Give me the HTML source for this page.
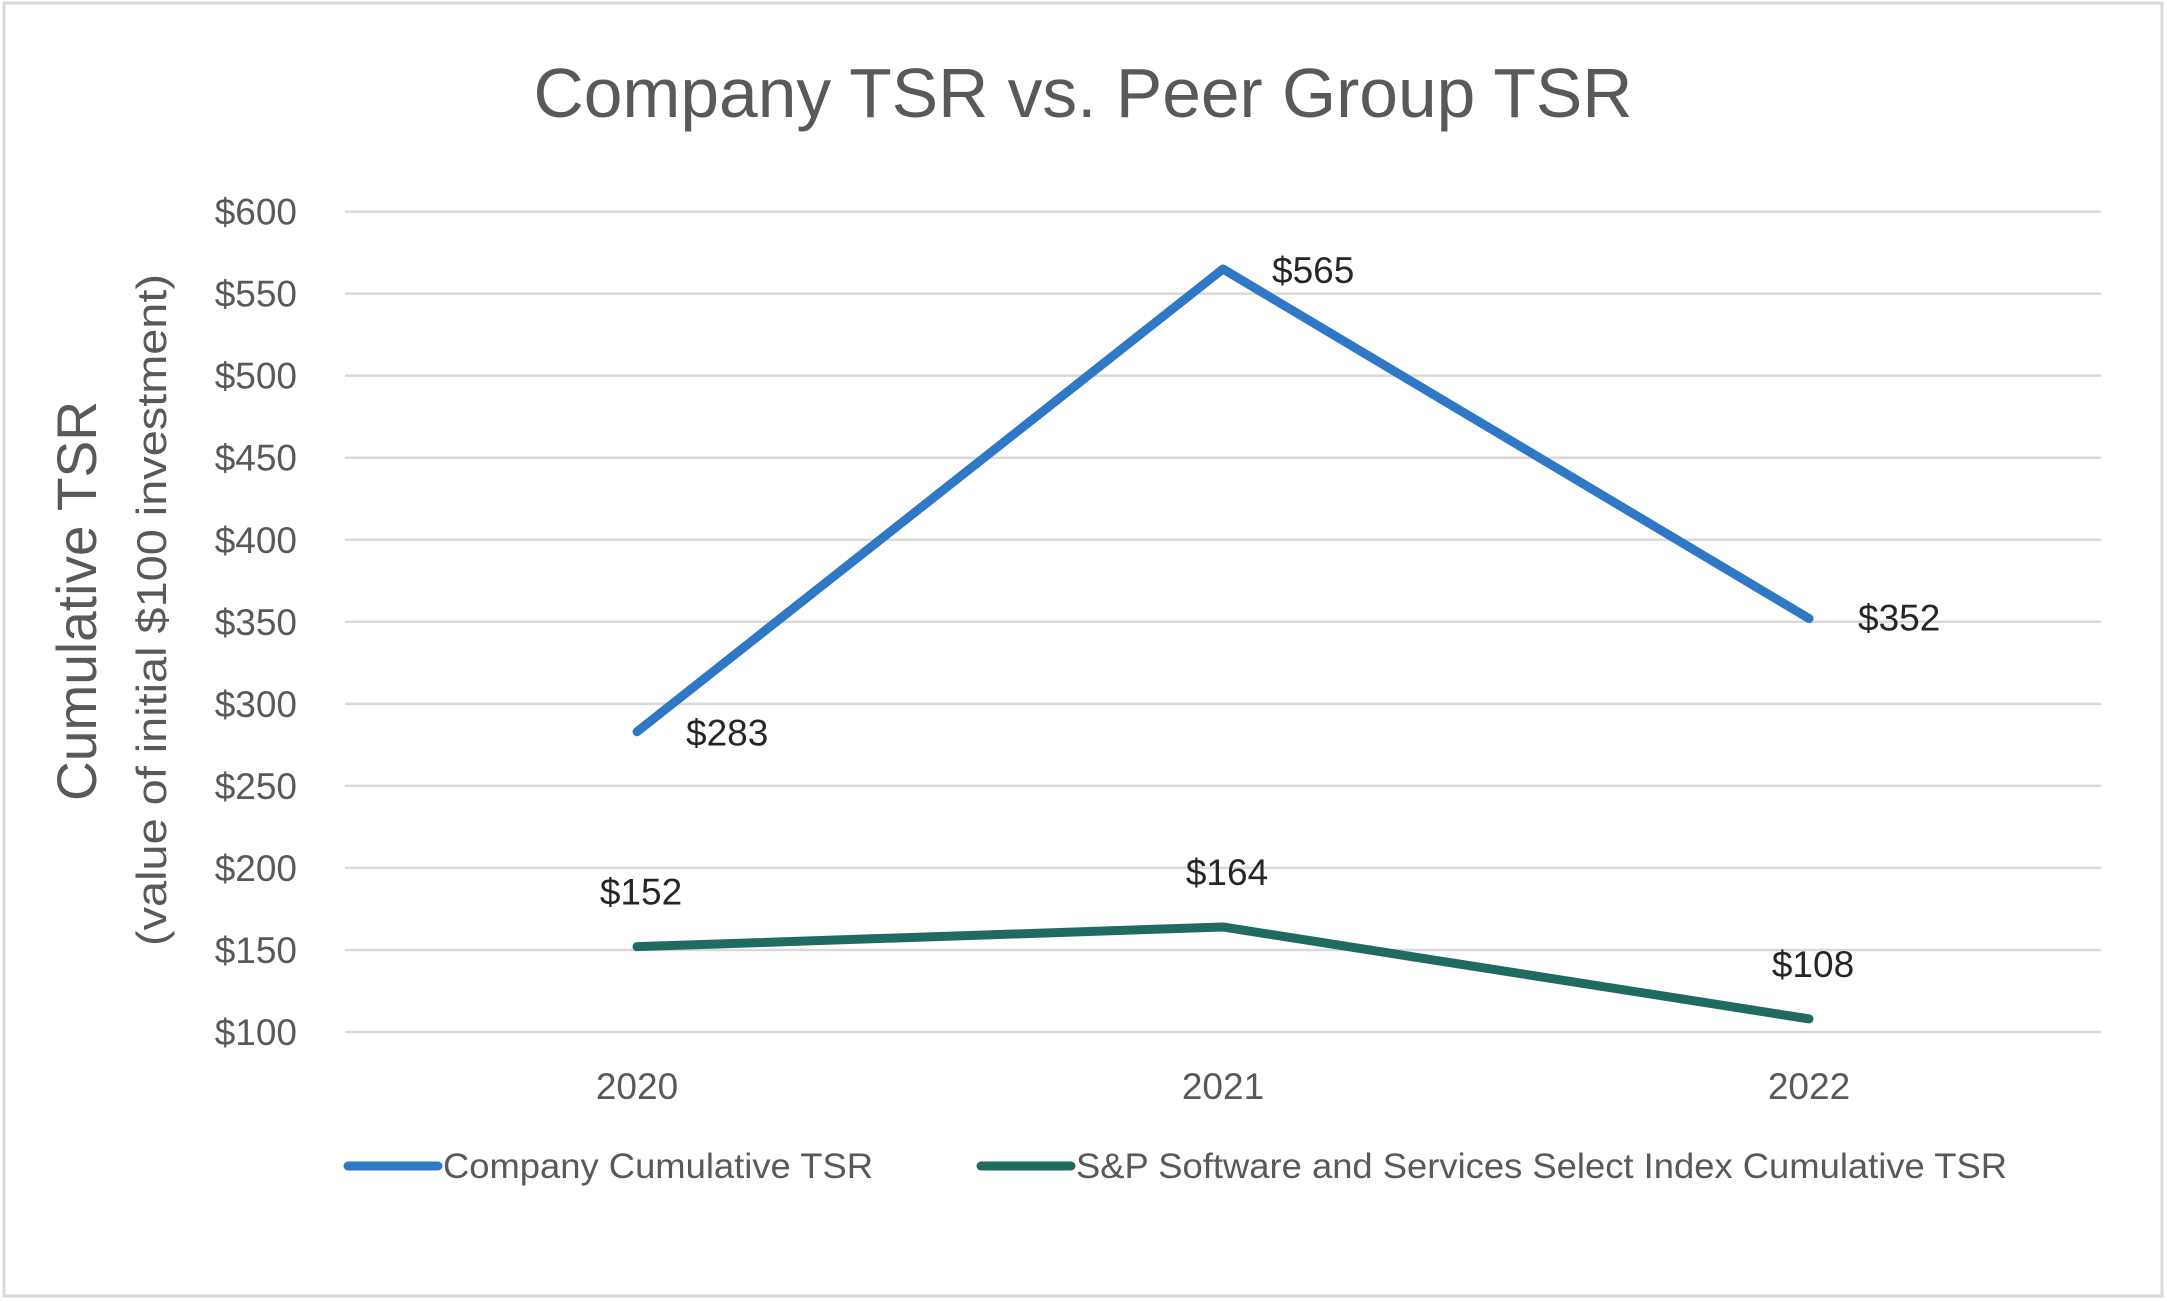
<!DOCTYPE html>
<html><head><meta charset="utf-8"><style>
html,body{margin:0;padding:0;background:#fff}
svg{display:block;font-family:"Liberation Sans",sans-serif}
</style></head><body>
<svg id="chart" width="2167" height="1301" viewBox="0 0 2167 1301">
<rect x="4" y="3" width="2158" height="1293" fill="#fff" stroke="#d9d9d9" stroke-width="3"/>
<text x="1083" y="117" font-size="70" fill="#595959" text-anchor="middle" textLength="1099" lengthAdjust="spacingAndGlyphs">Company TSR vs. Peer Group TSR</text>
<text transform="translate(96,601) rotate(-90)" font-size="56" fill="#595959" text-anchor="middle" textLength="400" lengthAdjust="spacingAndGlyphs">Cumulative TSR</text>
<text transform="translate(166,610) rotate(-90)" font-size="42" fill="#595959" text-anchor="middle" textLength="672" lengthAdjust="spacingAndGlyphs">(value of initial $100 investment)</text>
<g id="grid"></g><g id="yticks"></g><g id="xticks"></g><g id="series"></g><g id="labels"></g>
<g>
<line x1="348" y1="1166" x2="438" y2="1166" stroke="#2e78c6" stroke-width="9" stroke-linecap="round"/>
<text x="443" y="1178" font-size="35" fill="#595959" textLength="430" lengthAdjust="spacingAndGlyphs">Company Cumulative TSR</text>
<line x1="981" y1="1166" x2="1071" y2="1166" stroke="#1f6b61" stroke-width="9" stroke-linecap="round"/>
<text x="1076" y="1178" font-size="35" fill="#595959" textLength="931" lengthAdjust="spacingAndGlyphs">S&amp;P Software and Services Select Index Cumulative TSR</text>
</g>
</svg>
<script>
const categories = ["2020","2021","2022"];
const companyValues = [283,565,352];
const indexValues = [152,164,108];
const yTicks = [100,150,200,250,300,350,400,450,500,550,600];
const companyLabels = ["$283","$565","$352"];
const indexLabels = ["$152","$164","$108"];

const NS="http://www.w3.org/2000/svg";
const X0=345,X1=2101,Y0=1032,Y1=211.6,YMIN=100,YMAX=600;
function xs(i){return 637+i*586;}
function ys(v){return Y0-(v-YMIN)/(YMAX-YMIN)*(Y0-Y1);}
function mk(tag,attrs,parent){const e=document.createElementNS(NS,tag);for(const k in attrs)e.setAttribute(k,attrs[k]);parent.appendChild(e);return e;}
const grid=document.getElementById('grid'),yt=document.getElementById('yticks'),xt=document.getElementById('xticks'),se=document.getElementById('series'),lb=document.getElementById('labels');
yTicks.forEach(v=>{
 const l=mk('line',{x1:X0,x2:X1,y1:ys(v),y2:ys(v),stroke:'#d9d9d9','stroke-width':2.5},grid);
 
 
 const t=mk('text',{x:297,y:ys(v)+13,'font-size':37,fill:'#595959','text-anchor':'end'},yt);
 t.textContent='$'+v;
 
 
});
categories.forEach((c,i)=>{
 const t=mk('text',{x:xs(i),y:1099,'font-size':37,fill:'#595959','text-anchor':'middle'},xt);
 t.textContent=c;
 
 
});
function line(vals,color,name){
 const p=mk('polyline',{points:vals.map((v,i)=>xs(i)+','+ys(v)).join(' '),fill:'none',stroke:color,'stroke-width':9,'stroke-linecap':'round','stroke-linejoin':'round'},se);
 
 
}
line(companyValues,'#2e78c6','company-tsr-line');
line(indexValues,'#1f6b61','index-tsr-line');
const cOff=[[49,14],[49,14],[49,12]];
companyValues.forEach((v,i)=>{
 const t=mk('text',{x:xs(i)+cOff[i][0],y:ys(v)+cOff[i][1],'font-size':37,fill:'#262626','text-anchor':'start'},lb);
 t.textContent=companyLabels[i];
 
 
});
indexValues.forEach((v,i)=>{
 const t=mk('text',{x:xs(i)+4,y:ys(v)-42,'font-size':37,fill:'#262626','text-anchor':'middle'},lb);
 t.textContent=indexLabels[i];
 
 
});
</script>
</body></html>
